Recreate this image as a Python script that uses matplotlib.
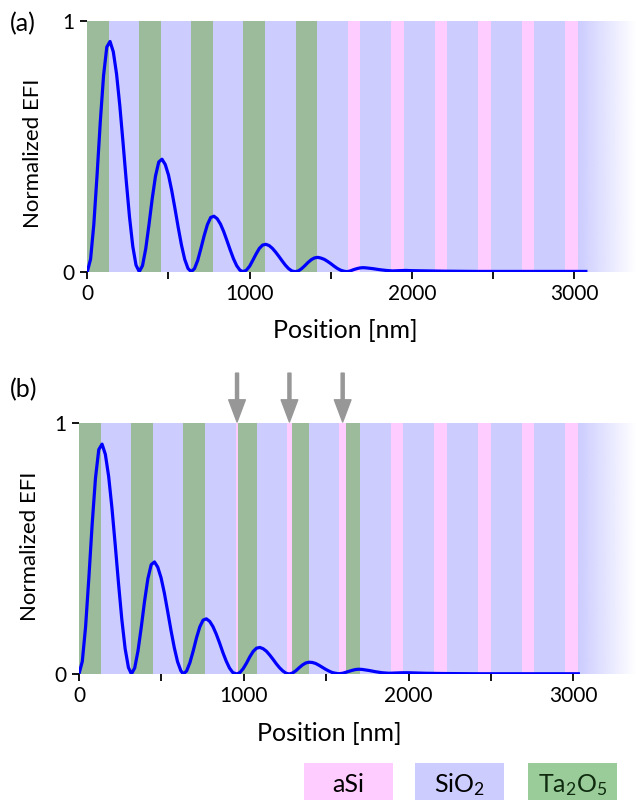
import numpy as np
import matplotlib
matplotlib.rcParams['font.family'] = ['Lato', 'DejaVu Sans']
matplotlib.rcParams['mathtext.fontset'] = 'custom'
matplotlib.rcParams['mathtext.rm'] = 'Lato'
matplotlib.rcParams['mathtext.it'] = 'Lato:italic'
import matplotlib.pyplot as plt
from matplotlib.patches import Rectangle
from matplotlib.colors import to_rgb

# ── layer stacks (nm) ─────────────────────────────────────────────────────────
edges_a = [0, 134, 320, 454, 641, 774, 961, 1095, 1286, 1413, 1604, 1680,
           1871, 1949, 2140, 2216, 2407, 2485, 2676, 2754, 2943, 3025]
mats_a = ['Ta2O5', 'SiO2', 'Ta2O5', 'SiO2', 'Ta2O5', 'SiO2', 'Ta2O5', 'SiO2',
          'Ta2O5', 'SiO2', 'aSi', 'SiO2', 'aSi', 'SiO2', 'aSi', 'SiO2', 'aSi',
          'SiO2', 'aSi', 'SiO2', 'aSi']

edges_b = [0, 133, 318, 447, 633, 763, 953, 965, 1080, 1264, 1290, 1394, 1580,
           1620, 1705, 1893, 1968, 2156, 2233, 2421, 2498, 2686, 2761, 2949, 3030]
mats_b = ['Ta2O5', 'SiO2', 'Ta2O5', 'SiO2', 'Ta2O5', 'SiO2', 'aSi', 'Ta2O5',
          'SiO2', 'aSi', 'Ta2O5', 'SiO2', 'aSi', 'Ta2O5', 'SiO2', 'aSi', 'SiO2',
          'aSi', 'SiO2', 'aSi', 'SiO2', 'aSi', 'SiO2', 'aSi']

arrows_b = [959, 1277, 1600]

# ── field intensity profiles ─────────────────────────────────────────────────
efi_a_x = [0, 20, 40, 60, 80, 100, 120, 140, 160, 180, 200, 220, 240, 260, 280, 300,
           320, 340, 360, 380, 400, 420, 440, 460, 480, 500, 520, 540, 560, 580, 600, 620,
           640, 660, 680, 700, 720, 740, 760, 780, 800, 820, 840, 860, 880, 900, 920, 940,
           960, 980, 1000, 1020, 1040, 1060, 1080, 1100, 1120, 1140, 1160, 1180, 1200, 1220, 1240, 1260,
           1280, 1300, 1320, 1340, 1360, 1380, 1400, 1420, 1440, 1460, 1480, 1500, 1520, 1540, 1560, 1580,
           1600, 1620, 1640, 1660, 1680, 1700, 1720, 1760, 1800, 1840, 1880, 1920, 1960, 2000,
           2100, 2200, 2400, 2600, 2800, 3071]
efi_a_y = [0.000, 0.050, 0.188, 0.385, 0.598, 0.781, 0.895, 0.917, 0.876, 0.788, 0.662, 0.514, 0.360, 0.217, 0.101, 0.026,
           0.000, 0.024, 0.092, 0.188, 0.292, 0.381, 0.437, 0.448, 0.427, 0.385, 0.323, 0.251, 0.176, 0.106, 0.049, 0.013,
           0.000, 0.012, 0.045, 0.093, 0.144, 0.188, 0.216, 0.221, 0.211, 0.190, 0.160, 0.124, 0.087, 0.052, 0.024, 0.006,
           0.000, 0.006, 0.022, 0.046, 0.071, 0.093, 0.106, 0.109, 0.104, 0.093, 0.078, 0.061, 0.043, 0.026, 0.012, 0.003,
           0.000, 0.003, 0.012, 0.024, 0.037, 0.048, 0.055, 0.057, 0.054, 0.049, 0.041, 0.032, 0.022, 0.013, 0.006, 0.002,
           0.000, 0.003, 0.008, 0.012, 0.015, 0.016, 0.015, 0.012, 0.008, 0.005, 0.003, 0.004, 0.005, 0.004,
           0.003, 0.002, 0.001, 0.001, 0.001, 0.001]

efi_b_x = [0, 20, 40, 60, 80, 100, 120, 140, 160, 180, 200, 220, 240, 260, 280, 300,
           318, 338, 358, 378, 398, 418, 438, 458, 478, 498, 518, 538, 558, 578, 598, 618,
           633, 653, 673, 693, 713, 733, 753, 773, 793, 813, 833, 853, 873, 893, 913, 933,
           957, 977, 997, 1017, 1037, 1057, 1077, 1097, 1117, 1137, 1157, 1177, 1197, 1217, 1237, 1257,
           1276, 1296, 1316, 1336, 1356, 1376, 1396, 1416, 1436, 1456, 1476, 1496, 1516, 1536, 1556, 1576,
           1600, 1620, 1640, 1660, 1680, 1700, 1720, 1760, 1800, 1840, 1880, 1920, 1960, 2000,
           2100, 2200, 2400, 2600, 2800, 3030]
efi_b_y = [0.000, 0.050, 0.188, 0.385, 0.598, 0.781, 0.895, 0.917, 0.876, 0.788, 0.662, 0.514, 0.360, 0.217, 0.101, 0.026,
           0.000, 0.024, 0.092, 0.187, 0.291, 0.380, 0.436, 0.447, 0.426, 0.384, 0.323, 0.250, 0.175, 0.106, 0.049, 0.013,
           0.000, 0.012, 0.045, 0.092, 0.144, 0.188, 0.215, 0.220, 0.210, 0.189, 0.159, 0.124, 0.086, 0.052, 0.024, 0.006,
           0.000, 0.006, 0.022, 0.044, 0.069, 0.090, 0.103, 0.106, 0.101, 0.091, 0.076, 0.059, 0.041, 0.025, 0.012, 0.003,
           0.000, 0.004, 0.013, 0.025, 0.036, 0.044, 0.047, 0.046, 0.042, 0.035, 0.027, 0.019, 0.012, 0.006, 0.003, 0.001,
           0.003, 0.007, 0.011, 0.015, 0.018, 0.019, 0.018, 0.014, 0.009, 0.005, 0.003, 0.004, 0.005, 0.005,
           0.003, 0.002, 0.001, 0.001, 0.001, 0.001]

COLORS = {'aSi': '#ffccff', 'SiO2': '#ccccff', 'Ta2O5': '#9bbb9b'}
XMAX = 3380

fig = plt.figure(figsize=(6.36, 8), dpi=100)
fig.patch.set_facecolor('white')


def panel(rect, edges, mats, x, y, label, lab_pos, xlab_x, ylab_pos, fade_start):
    ax = fig.add_axes(rect)
    for x0, x1, m in zip(edges[:-1], edges[1:], mats):
        ax.axvspan(x0, x1, color=COLORS[m], lw=0, zorder=0)
    # fading substrate
    grad = np.ones((1, 256, 4))
    grad[..., :3] = to_rgb(COLORS['SiO2'])
    grad[..., 3] = np.linspace(1, 0, 256)
    ax.imshow(grad, extent=[fade_start, XMAX, 0, 1], aspect='auto', zorder=0)
    ax.plot(x, y, color='#0000ff', lw=2.3, zorder=3)

    ax.set_xlim(0, XMAX)
    ax.set_ylim(0, 1)
    ax.set_xticks([0, 1000, 2000, 3000])
    ax.set_xticks([500, 1500, 2500], minor=True)
    ax.set_yticks([0, 1])
    ax.tick_params(which='both', length=5, width=1.3, labelsize=15, pad=4)
    for s in ax.spines.values():
        s.set_visible(False)
    ax.set_xlabel('Position [nm]', fontsize=18)
    ax.set_ylabel('Normalized EFI', fontsize=16)
    ax.xaxis.set_label_coords(xlab_x, -0.19)
    ax.yaxis.set_label_coords(*ylab_pos)
    ax.text(lab_pos[0], lab_pos[1], label, transform=ax.transAxes, fontsize=18,
            ha='left', va='center')
    return ax


ax_a = panel([0.1373, 0.6604, 0.8627, 0.3138], edges_a, mats_a, efi_a_x, efi_a_y,
             '(a)', (-0.141, 0.987), 0.47, (-0.081, 0.473), 3025)
ax_b = panel([0.1242, 0.1575, 0.8758, 0.3134], edges_b, mats_b, efi_b_x, efi_b_y,
             '(b)', (-0.124, 1.133), 0.45, (-0.070, 0.509), 3030)

for xa in arrows_b:
    ax_b.annotate('', xy=(xa, 1.005), xytext=(xa, 1.2), xycoords='data',
                  arrowprops=dict(width=2.2, headwidth=12, headlength=16,
                                  color='#979797', shrink=0),
                  annotation_clip=False)

# ── material legend ──────────────────────────────────────────────────────────
leg = [('aSi', 'aSi', 0.478, 'black'),
       ('SiO2', 'SiO$_2$', 0.653, 'black'),
       ('Ta2O5', 'Ta$_2$O$_5$', 0.830, '#0f2a0f')]
for key, txt, x0, tc in leg:
    fc = '#99cc99' if key == 'Ta2O5' else COLORS[key]
    fig.add_artist(Rectangle((x0, 0), 0.140, 0.0466, transform=fig.transFigure,
                             facecolor=fc, edgecolor='none'))
    fig.text(x0 + 0.070, 0.010, txt, ha='center', va='baseline', fontsize=18, color=tc)

plt.savefig('out.png', dpi=100, facecolor='white')
